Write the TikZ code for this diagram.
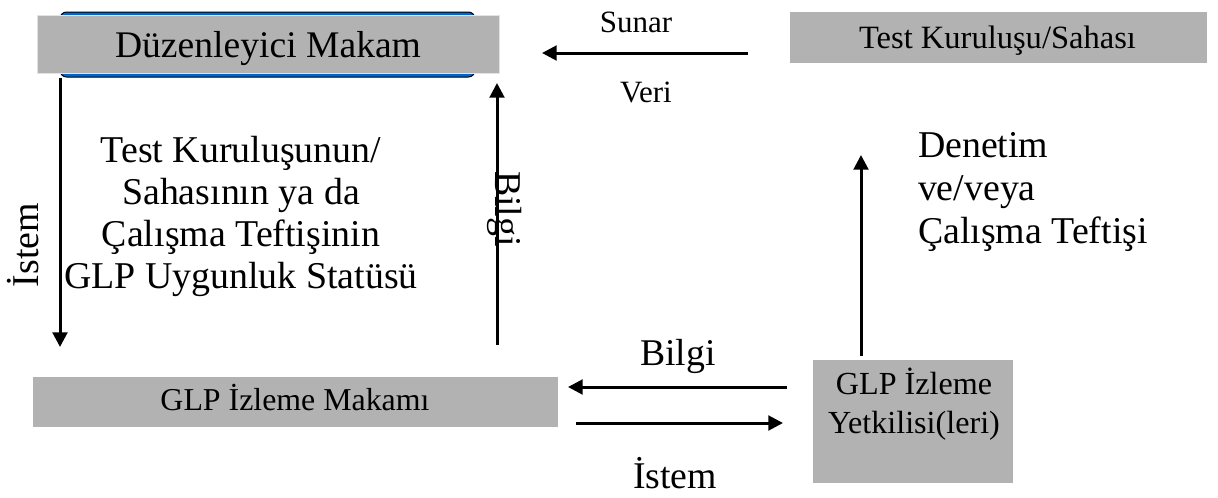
\documentclass[tikz,border=0pt]{standalone}
\usepackage{fontspec}
\setmainfont{Liberation Serif}
\usetikzlibrary{arrows.meta}
\definecolor{boxgray}{RGB}{178,178,178}
\definecolor{edgeblue}{RGB}{0,102,204}
\definecolor{paleblue}{RGB}{205,235,245}
\newcommand{\fsz}[2]{\fontsize{#1}{#2}\selectfont}
\tikzset{
  box/.style={fill=boxgray, inner sep=0pt, outer sep=0pt},
  txt/.style={inner sep=0pt, outer sep=0pt, anchor=base},
  arr/.style={line width=2.25pt, -{Triangle[length=11pt,width=11pt]}},
}
\begin{document}
\begin{tikzpicture}[x=0.75pt,y=-0.75pt]
\useasboundingbox (0,0) rectangle (1218,497);
% boxes
\node[rounded corners=5pt, draw=black, line width=0.75pt, fill=edgeblue,
      minimum width=311.25pt, minimum height=48.75pt, inner sep=0pt] (duzback) at (267.5,44.5) {};
\node[box, draw=paleblue, line width=0.75pt, minimum width=346.5pt, minimum height=43.5pt] (duz) at (268,44) {};
\node[txt, font=\fsz{28.2pt}{32pt}] (duzt) at (268,57) {Düzenleyici Makam};

\node[box, minimum width=312.75pt, minimum height=38.25pt] (test) at (998.5,37.5) {};
\node[txt, font=\fsz{24.4pt}{28pt}] (testt) at (997.5,48) {Test Kuruluşu/Sahası};

\node[box, minimum width=393.75pt, minimum height=37.5pt] (glpm) at (295.5,402) {};
\node[txt, font=\fsz{23.9pt}{28pt}] (glpmt) at (295,410) {GLP İzleme Makamı};

\node[box, minimum width=150pt, minimum height=92.25pt] (yet) at (913,421.5) {};
\node[txt, font=\fsz{24.1pt}{29.25pt}, align=center] (yett) at (914,433) {GLP İzleme\\Yetkilisi(leri)};

% texts
\node[txt, font=\fsz{23.25pt}{27pt}] (sunar) at (636,32) {Sunar};
\node[txt, font=\fsz{23.25pt}{27pt}] (veri) at (646,102) {Veri};
\node[txt, font=\fsz{28.4pt}{31.5pt}, align=center] (mid) at (241,288)
  {Test Kuruluşunun/\\Sahasının ya da\\Çalışma Teftişinin\\GLP Uygunluk Statüsü};
\node[txt, font=\fsz{28.4pt}{32.25pt}, align=left, anchor=base west] (den) at (918,243)
  {Denetim\\ve/veya\\Çalışma Teftişi};
\node[txt, font=\fsz{28.3pt}{31pt}] (bilgib) at (678,365) {Bilgi};
\node[txt, font=\fsz{28.3pt}{31pt}] (istemb) at (675,488) {İstem};
\node[txt, font=\fsz{28.4pt}{31pt}, rotate=90] (isteml) at (38,245) {İstem};
\node[txt, font=\fsz{28.4pt}{31pt}, rotate=-90] (bilgiv) at (495,209) {Bilgi};

% connectors
\coordinate (xl) at (60,0);
\coordinate (xu) at (497,0);
\coordinate (ys) at (0,53);
\coordinate (yb) at (0,387);
\coordinate (yi) at (0,423);
\coordinate (dt) at (861,155);
\draw[arr, shorten >=22.5pt] (duzback.south -| xl) -- (glpm.north -| xl);
\draw[arr, shorten <=24pt, shorten >=7.5pt] (glpm.north -| xu) -- (duz.south -| xu);
\draw[arr, shorten <=31.5pt, shorten >=32.25pt] (test.west |- ys) -- (duz.east |- ys);
\draw[arr, shorten <=19.5pt, shorten >=7.5pt] (yet.west |- yb) -- (glpm.east |- yb);
\draw[arr, shorten <=13.5pt, shorten >=22.5pt] (glpm.east |- yi) -- (yet.west |- yi);
\draw[arr, shorten <=3pt] (yet.north -| dt) -- (dt);
\end{tikzpicture}
\end{document}
